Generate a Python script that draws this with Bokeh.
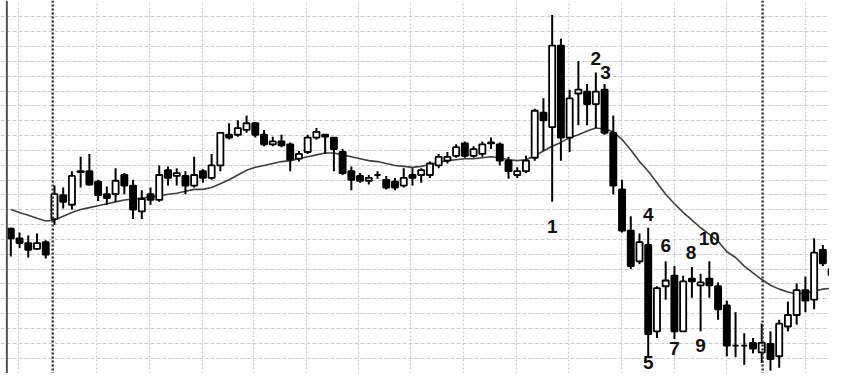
from bokeh.plotting import figure
from bokeh.models import ColumnDataSource, Range1d, FixedTicker, Span, Grid
from bokeh.embed import file_html
from bokeh.resources import INLINE
from bokeh.core.properties import value

# ---- data (price units) ----
opens = [162, 152, 147, 141, 148, 172, 197, 187, 222, 222, 211, 198, 198, 218, 207, 180, 198, 192, 223, 217,
         217, 207, 222, 215, 228, 260, 260, 265, 272, 260, 250, 253, 250, 235, 242, 257, 260, 257, 242, 222,
         217, 212, 218, 213, 211, 207, 218, 218, 218, 228, 233, 238, 251, 238, 240, 251, 250, 233, 218, 222,
         236, 283, 268, 353, 257, 303, 305, 292, 307, 262, 203, 160, 128, 145, 55, 102, 113, 55, 110, 103,
         110, 102, 82, 40, 40, 43, 33, 42, 29, 60, 72, 98, 88, 140, 114]
highs = [163, 158, 155, 157, 150, 207, 205, 222, 237, 240, 213, 206, 225, 220, 213, 202, 205, 228, 227, 225,
         222, 237, 224, 240, 263, 272, 275, 280, 273, 265, 258, 260, 252, 243, 260, 267, 260, 257, 245, 227,
         220, 218, 222, 217, 215, 225, 225, 225, 232, 240, 242, 250, 253, 248, 253, 257, 252, 237, 226, 238,
         287, 298, 385, 360, 307, 337, 313, 325, 313, 280, 213, 175, 157, 163, 102, 128, 123, 113, 122, 115,
         128, 106, 87, 75, 53, 48, 63, 55, 67, 86, 105, 112, 152, 145, 125]
lows = [133, 142, 132, 140, 131, 166, 183, 182, 205, 207, 191, 187, 190, 198, 172, 172, 187, 190, 207, 207,
        198, 205, 210, 213, 222, 255, 258, 262, 257, 248, 248, 247, 222, 232, 240, 255, 240, 222, 218, 202,
        210, 208, 214, 203, 202, 205, 207, 210, 215, 225, 230, 236, 236, 236, 237, 245, 228, 214, 215, 220,
        233, 243, 190, 233, 242, 270, 270, 267, 260, 198, 158, 120, 125, 27, 48, 88, 47, 55, 90, 55,
        90, 67, 29, 28, 20, 32, 22, 14, 17, 55, 62, 75, 78, 123, 110]
closes = [152, 147, 140, 147, 135, 198, 190, 217, 221, 208, 197, 194, 212, 207, 182, 193, 192, 218, 215, 220,
          207, 218, 215, 228, 262, 257, 267, 272, 260, 250, 253, 249, 234, 240, 257, 263, 258, 245, 220, 213,
          212, 215, 218, 205, 205, 215, 215, 223, 230, 237, 237, 247, 238, 245, 250, 252, 233, 222, 222, 233,
          285, 275, 353, 257, 298, 307, 292, 305, 262, 207, 160, 123, 148, 52, 100, 108, 55, 107, 107, 106,
          103, 78, 40, 40, 40, 37, 43, 26, 63, 72, 98, 87, 137, 126, 120]
ma = [182, 179, 176, 173, 170, 171, 175, 179, 182, 184, 186, 188, 190, 192, 193, 194, 195, 196, 198, 199,
      201, 203, 203, 205, 209, 213, 218, 223, 226, 228, 230, 232, 233, 235, 237, 239, 241, 241, 239, 237,
      235, 233, 232, 230, 228, 227, 226, 227, 229, 231, 233, 234, 235, 235, 236, 237, 236, 234, 233, 234,
      238, 243, 248, 252, 257, 260, 264, 267, 266, 263, 255, 244, 232, 222, 210, 198, 188, 179, 171, 163,
      156, 149, 138, 132, 123, 116, 109, 103, 99, 96, 94, 95, 97, 99, 100]

label_text = ["1", "2", "3", "4", "5", "6", "7", "8", "9", "10"]
label_idx = [62.0, 67.0, 68.1, 73.0, 73.0, 75.0, 76.0, 77.9, 79.0, 80.0]
label_price = [164, 340, 325, 177, 22, 145, 37, 137, 40, 152]

grid_days = [0.9, 9.8, 15.9, 21.9, 27.8, 33.9, 39.8, 45.8, 51.9, 57.9, 63.9, 69.9, 76.0, 82.0, 91.0]
bold_days = [4.8, 86.1]
price_ticks = [383, 367.5, 352, 336.6, 321.1, 305.6, 290.1, 274.6, 259.2, 243.7, 228.2, 212.7,
               197.2, 181.8, 166.3, 150.8, 135.3, 119.8, 104.4, 88.9, 73.4, 57.9, 42.4, 27.0]

idx = list(range(len(opens)))
tops = [max(o, c) for o, c in zip(opens, closes)]
bots = [min(o, c) for o, c in zip(opens, closes)]
fills = ["black" if c < o else "white" for o, c in zip(opens, closes)]

src = ColumnDataSource(dict(x=idx, o=opens, h=highs, l=lows, c=closes, top=tops, bot=bots, fill=fills))

p = figure(width=829, height=373, output_backend="svg", toolbar_location=None,
           x_range=Range1d(-1.18, 93.76), y_range=Range1d(11, 400),
           x_axis_type=None, y_axis_type=None, min_border=0)
p.outline_line_color = None
p.background_fill_color = "white"

p.add_layout(Grid(dimension=0, ticker=FixedTicker(ticks=grid_days),
                  grid_line_color="#cccccc", grid_line_width=1.2, grid_line_dash="2 2"))
p.add_layout(Grid(dimension=1, ticker=FixedTicker(ticks=price_ticks),
                  grid_line_color="#cccccc", grid_line_width=1.2, grid_line_dash="4 2"))
for d in bold_days:
    p.add_layout(Span(location=d, dimension="height", line_color="#333333",
                      line_width=2.5, line_dash="2 2"))
p.add_layout(Span(location=-0.45, dimension="height", line_color="#555555", line_width=2))

p.line(list(range(len(ma))), ma, line_color="#404040", line_width=1.6)

p.segment(x0="x", y0="h", x1="x", y1="l", source=src, line_color="black", line_width=2)
p.vbar(x="x", top="top", bottom="bot", width=0.7, source=src,
       fill_color="fill", line_color="black", line_width=1.8)

lsrc = ColumnDataSource(dict(x=label_idx, y=label_price, t=label_text))
p.text(x="x", y="y", text="t", source=lsrc, text_align="center", text_baseline="middle",
       text_font=value("Liberation Sans"), text_font_style="bold", text_font_size="19px",
       text_color="#111111")

open("out.html", "w").write(file_html(p, INLINE))
